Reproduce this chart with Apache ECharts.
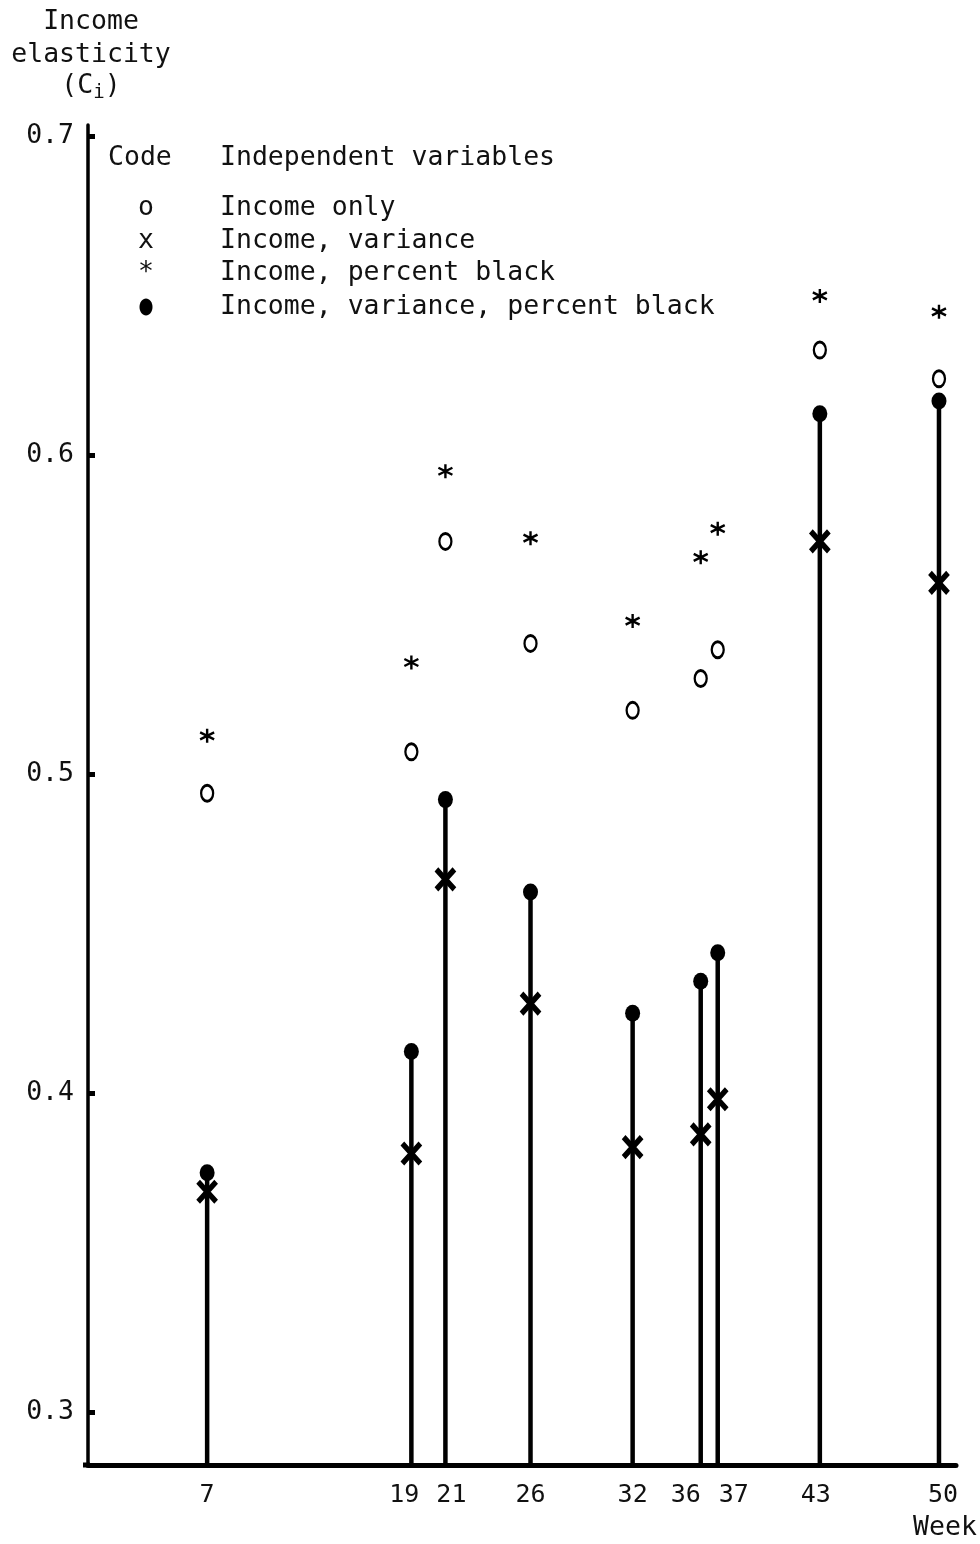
<!DOCTYPE html>
<html>
<head>
<meta charset="utf-8">
<script src="https://cdn.jsdelivr.net/npm/echarts@6.0.0/dist/echarts.min.js"></script>
<style>
  html, body { margin: 0; padding: 0; background: #fff; }
  #chart { width: 980px; height: 1544px; }
</style>
</head>
<body>
<div id="chart"></div>
<script>
// ---- Data ----
const weeks = [7, 19, 21, 26, 32, 36, 37, 43, 50];
const incomeOnly        = [0.494, 0.507, 0.573, 0.541, 0.520, 0.530, 0.539, 0.633, 0.624];
const incomeVariance    = [0.369, 0.381, 0.467, 0.428, 0.383, 0.387, 0.398, 0.573, 0.560];
const incomePctBlack    = [0.512, 0.535, 0.595, 0.574, 0.548, 0.568, 0.577, 0.650, 0.645];
const incomeVarPctBlack = [0.375, 0.413, 0.492, 0.463, 0.425, 0.435, 0.444, 0.613, 0.617];
const yTicks = [0.3, 0.4, 0.5, 0.6, 0.7];
const yTickLabels = ['0.3', '0.4', '0.5', '0.6', '0.7'];
const legendCodes = ['o', 'x', '*', '●'];
const legendNames = ['Income only', 'Income, variance', 'Income, percent black', 'Income, variance, percent black'];

const Y_MIN = 0.2833, Y_MAX = 0.7036;
const X_MIN = 0, X_MAX = 51;
const FONT = "'DejaVu Sans Mono', monospace";
const FS = 26.5;

// horizontal nudges (px) so that crowded week labels sit apart as in the original
const labelShift = { 19: -7, 21: 6, 36: -15, 37: 16, 43: -4, 50: 4 };

const pair = arr => weeks.map((w, i) => [w, arr[i]]);

const chart = echarts.init(document.getElementById('chart'), null, { renderer: 'canvas' });

const legendRowsY = [208, 241, 273, 307];
const txt = (text, x, y, align) => ({ type: 'text', x: x, y: y, style: { text: text, font: FS + 'px ' + FONT, fill: '#111', align: align || 'left', verticalAlign: 'middle' } });
const graphics = [
  txt('Income', 91, 22, 'center'),
  txt('elasticity', 91, 55, 'center'),
  { type: 'text', x: 91, y: 86, style: {
      text: '{a|(C}{s|i}{a|)}', align: 'center', verticalAlign: 'middle', fill: '#111',
      rich: { a: { fontFamily: FONT, fontSize: FS, fill: '#111' }, s: { fontFamily: FONT, fontSize: 19, fill: '#111', padding: [14, 0, 0, 0] } }
  } },
  txt('Code', 108, 158),
  txt('Independent variables', 220, 158),
  txt('Week', 945, 1528, 'center'),
  // slight leftward extension of the baseline, as drawn in the original
  { type: 'line', shape: { x1: 83, y1: 1465, x2: 90, y2: 1465 }, style: { stroke: '#000', lineWidth: 5 } }
];
legendNames.forEach((name, i) => {
  if (legendCodes[i] === '●') {
    graphics.push({ type: 'ellipse', shape: { cx: 146, cy: legendRowsY[i], rx: 6.5, ry: 8.5 }, style: { fill: '#000' } });
  } else {
    graphics.push(txt(legendCodes[i], 146, legendRowsY[i], 'center'));
  }
  graphics.push(txt(name, 220, legendRowsY[i]));
});

const option = {
  animation: false,
  backgroundColor: '#fff',
  grid: { left: 88, top: 125, width: 868, height: 1340, containLabel: false },
  xAxis: {
    type: 'value', min: X_MIN, max: X_MAX,
    axisLine: { show: true, onZero: false, lineStyle: { color: '#000', width: 5 } },
    axisTick: { show: false },
    splitLine: { show: false },
    axisLabel: {
      customValues: weeks, margin: 18, hideOverlap: false,
      fontFamily: FONT, fontSize: 25, color: '#111',
      formatter: v => {
        const s = labelShift[v] || 0;
        return s < 0 ? '{l|' + v + '}' + '{p|' + ' '.repeat(0) + '}' : '{l|' + v + '}';
      },
      rich: {}
    }
  },
  yAxis: {
    type: 'value', min: Y_MIN, max: Y_MAX,
    axisLine: { show: true, onZero: false, lineStyle: { color: '#000', width: 3.5 } },
    axisTick: { show: true, inside: true, customValues: yTicks, length: 7, lineStyle: { color: '#000', width: 5 } },
    splitLine: { show: false },
    axisLabel: {
      customValues: yTicks, margin: 14,
      fontFamily: FONT, fontSize: FS, color: '#111',
      formatter: v => { const i = yTicks.findIndex(t => Math.abs(t - v) < 1e-6); return i >= 0 ? yTickLabels[i] : ''; }
    }
  },
  graphic: graphics,
  series: [
    {
      name: 'stems', type: 'custom',
      data: pair(incomeVarPctBlack),
      renderItem: (params, api) => {
        const top = api.coord([api.value(0), api.value(1)]);
        const base = api.coord([api.value(0), Y_MIN]);
        return { type: 'line', shape: { x1: base[0], y1: base[1], x2: top[0], y2: top[1] }, style: { stroke: '#000', lineWidth: 4.5 } };
      },
      z: 1
    },
    {
      name: 'Income only', type: 'scatter', data: pair(incomeOnly),
      symbol: 'circle', symbolSize: [12, 16],
      itemStyle: { color: 'rgba(0,0,0,0)', borderColor: '#000', borderWidth: 2.6, opacity: 1 }, z: 3
    },
    {
      name: 'Income, variance', type: 'scatter', data: pair(incomeVariance),
      symbol: 'path://M-10,-10L10,10M-10,10L10,-10', symbolSize: [18, 20],
      itemStyle: { color: 'rgba(0,0,0,0)', borderColor: '#000', borderWidth: 5.5, opacity: 1 }, z: 3
    },
    {
      name: 'Income, percent black', type: 'scatter', data: pair(incomePctBlack),
      symbol: 'path://M0,-10L0,10M-8.66,-5L8.66,5M-8.66,5L8.66,-5', symbolSize: [14, 14],
      itemStyle: { color: 'rgba(0,0,0,0)', borderColor: '#000', borderWidth: 2.4, opacity: 1 }, z: 3
    },
    {
      name: 'Income, variance, percent black', type: 'scatter', data: pair(incomeVarPctBlack),
      symbol: 'circle', symbolSize: [15, 17],
      itemStyle: { color: '#000', opacity: 1 }, z: 4
    }
  ]
};

// build rich styles that pad week labels to shift them sideways
const rich = {};
weeks.forEach(w => {
  const s = labelShift[w] || 0;
  rich['w' + w] = { fontFamily: FONT, fontSize: 25, color: '#111',
    padding: s < 0 ? [0, -2 * s, 0, 0] : [0, 0, 0, 2 * s] };
});
option.xAxis.axisLabel.rich = rich;
option.xAxis.axisLabel.formatter = v => '{w' + v + '|' + v + '}';

chart.setOption(option);
</script>
</body>
</html>
